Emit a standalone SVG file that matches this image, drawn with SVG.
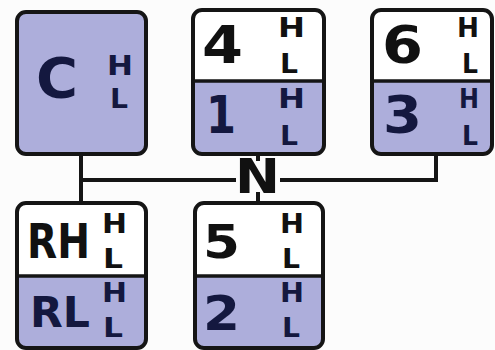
<svg xmlns="http://www.w3.org/2000/svg" width="495" height="350" viewBox="0 0 495 350">
<style>
.bg{fill:#fcfcfc}
.lo{fill:#adaedb}
.hi{fill:#ffffff}
.ol{fill:none;stroke:#151515;stroke-width:4}
.dv{stroke:#151515;stroke-width:3.5}
.cn{fill:none;stroke:#151515;stroke-width:4}
text{font-family:"DejaVu Sans","Liberation Sans",sans-serif;font-weight:bold}
.big{font-size:52px}
.sm{font-size:26px}
.k{fill:#111111}
.n{fill:#14183f}
</style>
<rect class="bg" x="0" y="0" width="495" height="350"/>
<g id="connectors">
<path class="cn" d="M81,154 V204"/>
<path class="cn" d="M81,180 H236"/>
<path class="cn" d="M280,180 H436 V154"/>
<path class="cn" d="M258,154 V161"/>
<path class="cn" d="M258,192 V204"/>
<text x="235" y="193" class="k" style="font-size:48px" textLength="45" lengthAdjust="spacingAndGlyphs">N</text>
</g>
<g id="node-C">
<rect class="lo" x="17" y="12" width="129" height="142" rx="9"/>
<rect class="ol" x="17" y="12" width="129" height="142" rx="9"/>
<text x="36" y="97" class="n" style="font-size:56px" textLength="42" lengthAdjust="spacingAndGlyphs">C</text>
<text x="107" y="75" class="n sm" textLength="26" lengthAdjust="spacingAndGlyphs">H</text>
<text x="110" y="108" class="n sm" textLength="18" lengthAdjust="spacingAndGlyphs">L</text>
</g>
<g id="node-4-1">
<path class="hi" d="M193,81 V19 Q193,10 202,10 H315 Q324,10 324,19 V81 Z"/>
<path class="lo" d="M193,81 H324 V145 Q324,154 315,154 H202 Q193,154 193,145 Z"/>
<rect class="ol" x="193" y="10" width="131" height="144" rx="9"/>
<line class="dv" x1="193" y1="81" x2="324" y2="81"/>
<text x="202" y="63" class="k big" textLength="41" lengthAdjust="spacingAndGlyphs">4</text>
<text x="278" y="37" class="k sm" textLength="27" lengthAdjust="spacingAndGlyphs">H</text>
<text x="280" y="73" class="k sm" textLength="18" lengthAdjust="spacingAndGlyphs">L</text>
<text x="206" y="133" class="n big" textLength="30" lengthAdjust="spacingAndGlyphs">1</text>
<text x="278" y="108" class="n sm" textLength="27" lengthAdjust="spacingAndGlyphs">H</text>
<text x="280" y="145" class="n sm" textLength="18" lengthAdjust="spacingAndGlyphs">L</text>
</g>
<g id="node-6-3">
<path class="hi" d="M372,81 V19 Q372,10 381,10 H483 Q492,10 492,19 V81 Z"/>
<path class="lo" d="M372,81 H492 V145 Q492,154 483,154 H381 Q372,154 372,145 Z"/>
<rect class="ol" x="372" y="10" width="120" height="144" rx="9"/>
<line class="dv" x1="372" y1="81" x2="492" y2="81"/>
<text x="382" y="63" class="k big" textLength="41" lengthAdjust="spacingAndGlyphs">6</text>
<text x="457" y="37" class="k sm" textLength="22" lengthAdjust="spacingAndGlyphs">H</text>
<text x="462" y="73" class="k sm" textLength="16" lengthAdjust="spacingAndGlyphs">L</text>
<text x="383" y="133" class="n big" textLength="39" lengthAdjust="spacingAndGlyphs">3</text>
<text x="459" y="108" class="n sm" textLength="20" lengthAdjust="spacingAndGlyphs">H</text>
<text x="462" y="145" class="n sm" textLength="16" lengthAdjust="spacingAndGlyphs">L</text>
</g>
<g id="node-R">
<path class="hi" d="M17,276 V212 Q17,203 26,203 H137 Q146,203 146,212 V276 Z"/>
<path class="lo" d="M17,276 H146 V339 Q146,348 137,348 H26 Q17,348 17,339 Z"/>
<rect class="ol" x="17" y="203" width="129" height="145" rx="9"/>
<line class="dv" x1="17" y1="276" x2="146" y2="276"/>
<text x="27" y="258" class="k" style="font-size:48px" textLength="63" lengthAdjust="spacingAndGlyphs">RH</text>
<text x="102" y="233" class="k sm" textLength="25" lengthAdjust="spacingAndGlyphs">H</text>
<text x="103" y="268" class="k sm" textLength="20" lengthAdjust="spacingAndGlyphs">L</text>
<text x="30" y="327" class="n" style="font-size:42px" textLength="60" lengthAdjust="spacingAndGlyphs">RL</text>
<text x="102" y="302" class="n sm" textLength="25" lengthAdjust="spacingAndGlyphs">H</text>
<text x="103" y="337" class="n sm" textLength="20" lengthAdjust="spacingAndGlyphs">L</text>
</g>
<g id="node-5-2">
<path class="hi" d="M195,276 V212 Q195,203 204,203 H314 Q323,203 323,212 V276 Z"/>
<path class="lo" d="M195,276 H323 V339 Q323,348 314,348 H204 Q195,348 195,339 Z"/>
<rect class="ol" x="195" y="203" width="128" height="145" rx="9"/>
<line class="dv" x1="195" y1="276" x2="323" y2="276"/>
<text x="203" y="258" class="k" style="font-size:46px" textLength="37" lengthAdjust="spacingAndGlyphs">5</text>
<text x="280" y="233" class="k sm" textLength="24" lengthAdjust="spacingAndGlyphs">H</text>
<text x="282" y="268" class="k sm" textLength="18" lengthAdjust="spacingAndGlyphs">L</text>
<text x="203" y="330" class="n" style="font-size:48px" textLength="37" lengthAdjust="spacingAndGlyphs">2</text>
<text x="280" y="302" class="n sm" textLength="24" lengthAdjust="spacingAndGlyphs">H</text>
<text x="282" y="337" class="n sm" textLength="18" lengthAdjust="spacingAndGlyphs">L</text>
</g>
</svg>
